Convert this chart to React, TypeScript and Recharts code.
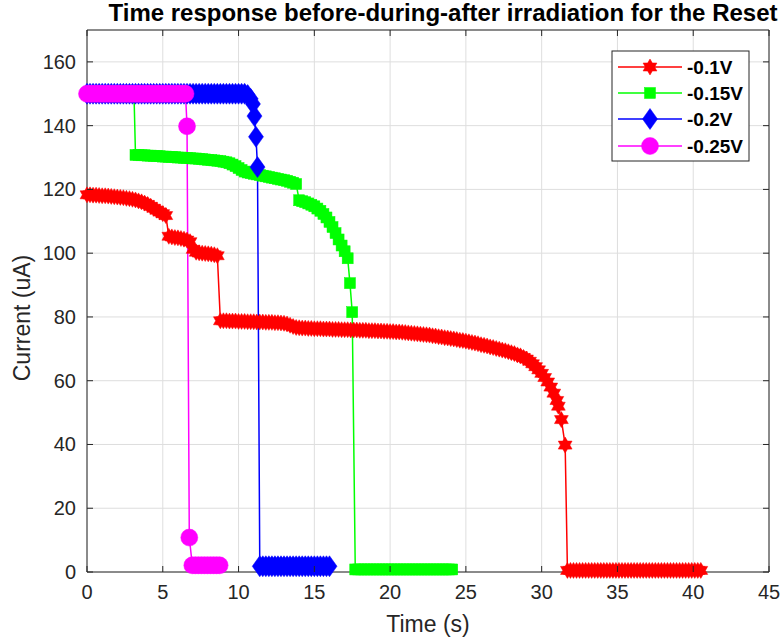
import React from 'react';
import { LineChart, Line, XAxis, YAxis, CartesianGrid, ReferenceLine } from 'recharts';

// Reset transient, [time (s), current (uA)] per read voltage
const readMinus010V: [number, number][] = [
  [0, 118.3], [0.2, 118.3], [0.4, 118.2], [0.6, 118.2], [0.8, 118.1], [1, 118], [1.2, 118], [1.4, 117.9],
  [1.6, 117.8], [1.8, 117.7], [2, 117.6], [2.2, 117.5], [2.4, 117.4], [2.6, 117.2], [2.8, 117.1], [3, 116.9],
  [3.2, 116.7], [3.4, 116.4], [3.6, 116.1], [3.8, 115.7], [4, 115.3], [4.2, 114.7], [4.4, 114.1], [4.6, 113.5],
  [4.8, 112.9], [5, 112.4], [5.2, 111.8], [5.4, 105.3], [5.6, 105.1], [5.8, 104.9], [6, 104.8], [6.2, 104.6],
  [6.4, 104.4], [6.6, 104.1], [6.8, 103.6], [7, 101.2], [7.2, 100.3], [7.4, 100.1], [7.6, 100], [7.8, 99.9],
  [8, 99.8], [8.2, 99.7], [8.4, 99.5], [8.6, 99.2], [8.8, 78.8], [9, 78.8], [9.2, 78.8], [9.4, 78.7],
  [9.6, 78.7], [9.8, 78.7], [10, 78.6], [10.2, 78.6], [10.4, 78.6], [10.6, 78.5], [10.8, 78.5], [11, 78.5],
  [11.2, 78.4], [11.4, 78.4], [11.6, 78.4], [11.8, 78.3], [12, 78.3], [12.2, 78.3], [12.4, 78.2], [12.6, 78.2],
  [12.8, 78.1], [13, 78], [13.2, 77.8], [13.4, 77.4], [13.6, 77], [13.8, 76.7], [14, 76.6], [14.2, 76.5],
  [14.4, 76.5], [14.6, 76.4], [14.8, 76.4], [15, 76.3], [15.2, 76.3], [15.4, 76.3], [15.6, 76.2], [15.8, 76.2],
  [16, 76.2], [16.2, 76.1], [16.4, 76.1], [16.6, 76.1], [16.8, 76], [17, 76], [17.2, 76], [17.4, 75.9],
  [17.6, 75.9], [17.8, 75.9], [18, 75.8], [18.2, 75.8], [18.4, 75.8], [18.6, 75.7], [18.8, 75.7], [19, 75.7],
  [19.2, 75.6], [19.4, 75.6], [19.6, 75.5], [19.8, 75.5], [20, 75.4], [20.2, 75.4], [20.4, 75.3], [20.6, 75.3],
  [20.8, 75.2], [21, 75.1], [21.2, 75], [21.4, 74.9], [21.6, 74.8], [21.8, 74.7], [22, 74.6], [22.2, 74.5],
  [22.4, 74.4], [22.6, 74.3], [22.8, 74.1], [23, 74], [23.2, 73.8], [23.4, 73.7], [23.6, 73.5], [23.8, 73.4],
  [24, 73.2], [24.2, 73.1], [24.4, 72.9], [24.6, 72.7], [24.8, 72.6], [25, 72.4], [25.2, 72.2], [25.4, 72],
  [25.6, 71.8], [25.8, 71.6], [26, 71.3], [26.2, 71.1], [26.4, 70.9], [26.6, 70.6], [26.8, 70.4], [27, 70.1],
  [27.2, 69.9], [27.4, 69.6], [27.6, 69.4], [27.8, 69.1], [28, 68.8], [28.2, 68.5], [28.4, 68.1], [28.6, 67.8],
  [28.8, 67.3], [29, 66.8], [29.2, 66.1], [29.4, 65.3], [29.6, 64.4], [29.8, 63.4], [30, 62.3], [30.2, 61],
  [30.4, 59.6], [30.6, 58], [30.8, 56.1], [31, 53.8], [31.1, 52], [31.3, 47.8], [31.55, 39.8], [31.7, 0.5],
  [31.9, 0.5], [32.1, 0.5], [32.3, 0.5], [32.5, 0.5], [32.7, 0.5], [32.9, 0.5], [33.1, 0.5], [33.3, 0.5],
  [33.5, 0.5], [33.7, 0.5], [33.9, 0.5], [34.1, 0.5], [34.3, 0.5], [34.5, 0.5], [34.7, 0.5], [34.9, 0.5],
  [35.1, 0.5], [35.3, 0.5], [35.5, 0.5], [35.7, 0.5], [35.9, 0.5], [36.1, 0.5], [36.3, 0.5], [36.5, 0.5],
  [36.7, 0.5], [36.9, 0.5], [37.1, 0.5], [37.3, 0.5], [37.5, 0.5], [37.7, 0.5], [37.9, 0.5], [38.1, 0.5],
  [38.3, 0.5], [38.5, 0.5], [38.7, 0.5], [38.9, 0.5], [39.1, 0.5], [39.3, 0.5], [39.5, 0.5], [39.7, 0.5],
  [39.9, 0.5], [40.1, 0.5], [40.3, 0.5], [40.5, 0.5],
];

const readMinus015V: [number, number][] = [
  [0, 150], [0.2, 150], [0.4, 150], [0.6, 150], [0.8, 150], [1, 150], [1.2, 150], [1.4, 150],
  [1.6, 150], [1.8, 150], [2, 150], [2.2, 150], [2.4, 150], [2.6, 150], [2.8, 150], [3.1, 150],
  [3.2, 130.8], [3.4, 130.8], [3.6, 130.7], [3.8, 130.7], [4, 130.6], [4.2, 130.6], [4.4, 130.5], [4.6, 130.5],
  [4.8, 130.4], [5, 130.3], [5.2, 130.3], [5.4, 130.2], [5.6, 130.2], [5.8, 130.1], [6, 130], [6.2, 130],
  [6.4, 129.9], [6.6, 129.9], [6.8, 129.8], [7, 129.7], [7.2, 129.7], [7.4, 129.6], [7.6, 129.5], [7.8, 129.4],
  [8, 129.3], [8.2, 129.2], [8.4, 129.1], [8.6, 129], [8.8, 128.9], [9, 128.7], [9.2, 128.5], [9.4, 128.2],
  [9.6, 127.8], [9.8, 127.3], [10, 126.7], [10.2, 126.1], [10.4, 125.6], [10.6, 125.3], [10.8, 125.1], [11, 124.9],
  [11.2, 124.7], [11.4, 124.5], [11.6, 124.3], [11.8, 124.1], [12, 123.9], [12.2, 123.7], [12.4, 123.5], [12.6, 123.3],
  [12.8, 123.1], [13, 122.9], [13.2, 122.7], [13.4, 122.4], [13.6, 122.1], [13.8, 121.7], [14, 116.6], [14.2, 116.3],
  [14.4, 116], [14.6, 115.6], [14.8, 115.2], [15, 114.7], [15.2, 114], [15.4, 113.3], [15.6, 112.3], [15.8, 111.2],
  [16, 109.8], [16.2, 108.2], [16.4, 106.3], [16.6, 104.3], [16.8, 102.4], [17, 100.6], [17.2, 98.4], [17.35, 90.6],
  [17.5, 81.5], [17.7, 0.8], [17.9, 0.8], [18.1, 0.8], [18.3, 0.8], [18.5, 0.8], [18.7, 0.8], [18.9, 0.8],
  [19.1, 0.8], [19.3, 0.8], [19.5, 0.8], [19.7, 0.8], [19.9, 0.8], [20.1, 0.8], [20.3, 0.8], [20.5, 0.8],
  [20.7, 0.8], [20.9, 0.8], [21.1, 0.8], [21.3, 0.8], [21.5, 0.8], [21.7, 0.8], [21.9, 0.8], [22.1, 0.8],
  [22.3, 0.8], [22.5, 0.8], [22.7, 0.8], [22.9, 0.8], [23.1, 0.8], [23.3, 0.8], [23.5, 0.8], [23.7, 0.8],
  [23.9, 0.8], [24.1, 0.8],
];

const readMinus020V: [number, number][] = [
  [0, 150], [0.2, 150], [0.4, 150], [0.6, 150], [0.8, 150], [1, 150], [1.2, 150], [1.4, 150],
  [1.6, 150], [1.8, 150], [2, 150], [2.2, 150], [2.4, 150], [2.6, 150], [2.8, 150], [3, 150],
  [3.2, 150], [3.4, 150], [3.6, 150], [3.8, 150], [4, 150], [4.2, 150], [4.4, 150], [4.6, 150],
  [4.8, 150], [5, 150], [5.2, 150], [5.4, 150], [5.6, 150], [5.8, 150], [6, 150], [6.2, 150],
  [6.4, 150], [6.6, 150], [6.8, 150], [7, 150], [7.2, 150], [7.4, 150], [7.6, 150], [7.8, 150],
  [8, 150], [8.2, 150], [8.4, 150], [8.6, 150], [8.8, 150], [9, 150], [9.2, 150], [9.4, 150],
  [9.6, 150], [9.8, 150], [10, 150], [10.2, 150], [10.4, 150], [10.6, 149.6], [10.8, 148.4], [10.95, 146.8],
  [11.05, 143], [11.15, 136.5], [11.25, 127], [11.4, 1.8], [11.6, 1.8], [11.8, 1.8], [12, 1.8], [12.2, 1.8],
  [12.4, 1.8], [12.6, 1.8], [12.8, 1.8], [13, 1.8], [13.2, 1.8], [13.4, 1.8], [13.6, 1.8], [13.8, 1.8],
  [14, 1.8], [14.2, 1.8], [14.4, 1.8], [14.6, 1.8], [14.8, 1.8], [15, 1.8], [15.2, 1.8], [15.4, 1.8],
  [15.6, 1.8], [15.8, 1.8], [16, 1.8],
];

const readMinus025V: [number, number][] = [
  [0, 150], [0.2, 150], [0.4, 150], [0.6, 150], [0.8, 150], [1, 150], [1.2, 150], [1.4, 150],
  [1.6, 150], [1.8, 150], [2, 150], [2.2, 150], [2.4, 150], [2.6, 150], [2.8, 150], [3, 150],
  [3.2, 150], [3.4, 150], [3.6, 150], [3.8, 150], [4, 150], [4.2, 150], [4.4, 150], [4.6, 150],
  [4.8, 150], [5, 150], [5.2, 150], [5.4, 150], [5.6, 150], [5.8, 150], [6, 150], [6.2, 150],
  [6.4, 150], [6.5, 150], [6.6, 139.8], [6.75, 10.8], [6.95, 2.1], [7.15, 2.1], [7.35, 2.1], [7.55, 2.1],
  [7.75, 2.1], [7.95, 2.1], [8.15, 2.1], [8.35, 2.1], [8.55, 2.1], [8.75, 2.1],
];

const seriesNames = ['-0.1V', '-0.15V', '-0.2V', '-0.25V'];
const seriesColors = ['#ff0000', '#00ff00', '#0000ff', '#ff00ff'];
const seriesMarkers = ['hexagram', 'square', 'diamond', 'circle'];
const seriesSamples = [readMinus010V, readMinus015V, readMinus020V, readMinus025V];

const timeTicks = [0, 5, 10, 15, 20, 25, 30, 35, 40, 45];
const currentTicks = [0, 20, 40, 60, 80, 100, 120, 140, 160];

const W = 783;
const H = 644;
const PLOT = { left: 87, right: 769, top: 30, bottom: 572 };
const TICK_LEN = 6;
const AXIS_COLOR = '#262626';
const FONT = '"Liberation Sans", Arial, Helvetica, sans-serif';

const Marker = ({ shape, cx, cy, color }: { shape: string; cx: number; cy: number; color: string }) => {
  if (cx == null || cy == null) return null;
  if (shape === 'hexagram') {
    const pts: string[] = [];
    for (let i = 0; i < 12; i++) {
      const r = i % 2 === 0 ? 8 : 4.7;
      const a = -Math.PI / 2 + (i * Math.PI) / 6;
      pts.push(`${cx + r * Math.cos(a)},${cy + r * Math.sin(a)}`);
    }
    return <polygon points={pts.join(' ')} fill={color} stroke={color} strokeWidth={0.5} />;
  }
  if (shape === 'square') {
    return <rect x={cx - 5.5} y={cy - 5.5} width={11} height={11} fill={color} stroke={color} strokeWidth={0.5} />;
  }
  if (shape === 'diamond') {
    return (
      <polygon
        points={`${cx},${cy - 10.5} ${cx + 7.5},${cy} ${cx},${cy + 10.5} ${cx - 7.5},${cy}`}
        fill={color}
        stroke={color}
        strokeWidth={0.5}
      />
    );
  }
  return <circle cx={cx} cy={cy} r={8.5} fill={color} stroke={color} strokeWidth={0.5} />;
};

const TimeTick = (props: any) => {
  const { payload } = props;
  const x = payload.coordinate;
  return (
    <g>
      <line x1={x} x2={x} y1={PLOT.bottom} y2={PLOT.bottom - TICK_LEN} stroke={AXIS_COLOR} />
      <line x1={x} x2={x} y1={PLOT.top} y2={PLOT.top + TICK_LEN} stroke={AXIS_COLOR} />
      <text x={x} y={PLOT.bottom + 27} textAnchor="middle" fontSize={20} fontFamily={FONT} fill={AXIS_COLOR}>
        {payload.value}
      </text>
    </g>
  );
};

const CurrentTick = (props: any) => {
  const { payload } = props;
  const y = payload.coordinate;
  return (
    <g>
      <line x1={PLOT.left} x2={PLOT.left + TICK_LEN} y1={y} y2={y} stroke={AXIS_COLOR} />
      <line x1={PLOT.right} x2={PLOT.right - TICK_LEN} y1={y} y2={y} stroke={AXIS_COLOR} />
      <text x={PLOT.left - 11} y={y + 7} textAnchor="end" fontSize={20} fontFamily={FONT} fill={AXIS_COLOR}>
        {payload.value}
      </text>
    </g>
  );
};

const LegendBox = () => {
  const left = 612;
  const top = 51;
  const rowY = [67, 93, 119, 146];
  return (
    <g>
      <rect x={left} y={top} width={137} height={110} fill="#ffffff" stroke={AXIS_COLOR} strokeWidth={1} />
      {seriesNames.map((name, i) => (
        <g key={name}>
          <line x1={618} x2={682} y1={rowY[i]} y2={rowY[i]} stroke={seriesColors[i]} strokeWidth={1.5} />
          <Marker shape={seriesMarkers[i]} cx={650} cy={rowY[i]} color={seriesColors[i]} />
          <text x={687} y={rowY[i] + 7} fontSize={19} fontWeight="bold" fontFamily={FONT} fill="#000">
            {name}
          </text>
        </g>
      ))}
    </g>
  );
};

export default function App() {
  return (
    <div style={{ position: 'absolute', left: 0, top: 0, width: W, height: H, background: '#fff' }}>
      <LineChart width={W} height={H} margin={{ top: PLOT.top, right: W - PLOT.right, bottom: 42, left: 27 }}>
        <CartesianGrid stroke="#dedede" strokeWidth={1} />
        <XAxis
          type="number"
          dataKey="t"
          domain={[0, 45]}
          ticks={timeTicks}
          interval={0}
          height={30}
          tickSize={0}
          tick={<TimeTick />}
          axisLine={{ stroke: AXIS_COLOR }}
        />
        <YAxis
          type="number"
          domain={[0, 170]}
          ticks={currentTicks}
          interval={0}
          width={60}
          tickSize={0}
          tick={<CurrentTick />}
          axisLine={{ stroke: AXIS_COLOR }}
        />
        <ReferenceLine y={170} stroke={AXIS_COLOR} />
        <ReferenceLine x={45} stroke={AXIS_COLOR} />
        {seriesSamples.map((samples, i) => (
          <Line
            key={seriesNames[i]}
            name={seriesNames[i]}
            data={samples.map(([t, v]) => ({ t, v }))}
            dataKey="v"
            stroke={seriesColors[i]}
            strokeWidth={1.5}
            isAnimationActive={false}
            dot={(p: any) => (
              <Marker key={`${i}-${p.index}`} shape={seriesMarkers[i]} cx={p.cx} cy={p.cy} color={seriesColors[i]} />
            )}
            activeDot={false}
          />
        ))}
      </LineChart>
      <svg width={W} height={H} style={{ position: 'absolute', left: 0, top: 0, pointerEvents: 'none' }}>
        <text x={443} y={21} textAnchor="middle" fontSize={24} fontWeight="bold" fontFamily={FONT} fill="#000">
          Time response before-during-after irradiation for the Reset
        </text>
        <text x={428} y={632} textAnchor="middle" fontSize={23} fontFamily={FONT} fill={AXIS_COLOR}>
          Time (s)
        </text>
        <text
          transform="translate(30, 318) rotate(-90)"
          textAnchor="middle"
          fontSize={23}
          fontFamily={FONT}
          fill={AXIS_COLOR}
        >
          Current (uA)
        </text>
        <LegendBox />
      </svg>
    </div>
  );
}
